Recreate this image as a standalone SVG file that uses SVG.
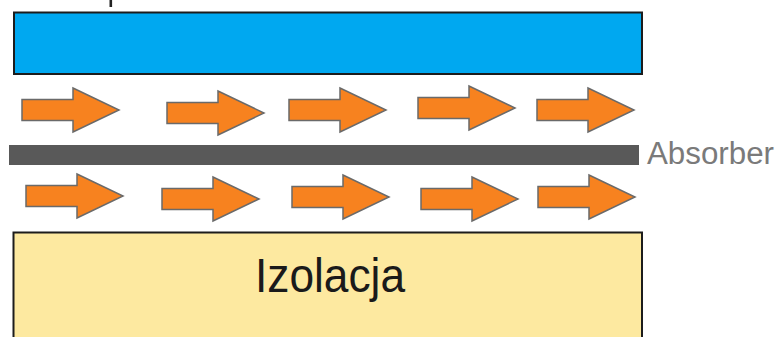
<svg xmlns="http://www.w3.org/2000/svg" xmlns:xlink="http://www.w3.org/1999/xlink" width="776" height="337" viewBox="0 0 776 337">
  <style>
    .layer { stroke: #1c1c1c; stroke-width: 2; }
    .flow { fill: #f7821f; stroke: #6a6a6a; stroke-width: 1.5; stroke-linejoin: miter; }
    .label { font-family: "Liberation Sans", Arial, sans-serif; }
  </style>
  <defs>
    <!-- air-flow arrow, origin at the tail centre -->
    <path id="flowArrow" d="M0,-10.5 H51 V-22 L97,0 L51,22 V10.5 H0 Z"/>
  </defs>
  <rect width="776" height="337" fill="#ffffff"/>

  <!-- descender of a heading cut at the top edge -->
  <rect x="109.5" y="0" width="2.6" height="7" fill="#222222"/>

  <g id="cover">
    <rect class="layer" x="14" y="12.5" width="628" height="61.5" fill="#00a8f0"/>
  </g>

  <g id="absorber">
    <rect x="9" y="145" width="630" height="20" fill="#595959"/>
    <text class="label" x="647" y="164" font-size="31" fill="#7a7a7a" textLength="127" lengthAdjust="spacingAndGlyphs">Absorber</text>
  </g>

  <g id="insulation">
    <rect class="layer" x="13.5" y="232.5" width="628.5" height="110" fill="#fde9a0"/>
    <text class="label" x="255" y="292" font-size="48" fill="#1a1a1a" textLength="150" lengthAdjust="spacingAndGlyphs">Izolacja</text>
  </g>

  <g id="flows">
    <use class="flow" xlink:href="#flowArrow" x="22" y="110"/>
    <use class="flow" xlink:href="#flowArrow" x="167" y="113"/>
    <use class="flow" xlink:href="#flowArrow" x="289" y="110"/>
    <use class="flow" xlink:href="#flowArrow" x="418" y="108"/>
    <use class="flow" xlink:href="#flowArrow" x="537" y="110"/>

    <use class="flow" xlink:href="#flowArrow" x="26" y="196"/>
    <use class="flow" xlink:href="#flowArrow" x="162" y="199"/>
    <use class="flow" xlink:href="#flowArrow" x="292" y="197"/>
    <use class="flow" xlink:href="#flowArrow" x="421" y="199"/>
    <use class="flow" xlink:href="#flowArrow" x="538" y="197"/>
  </g>
</svg>
